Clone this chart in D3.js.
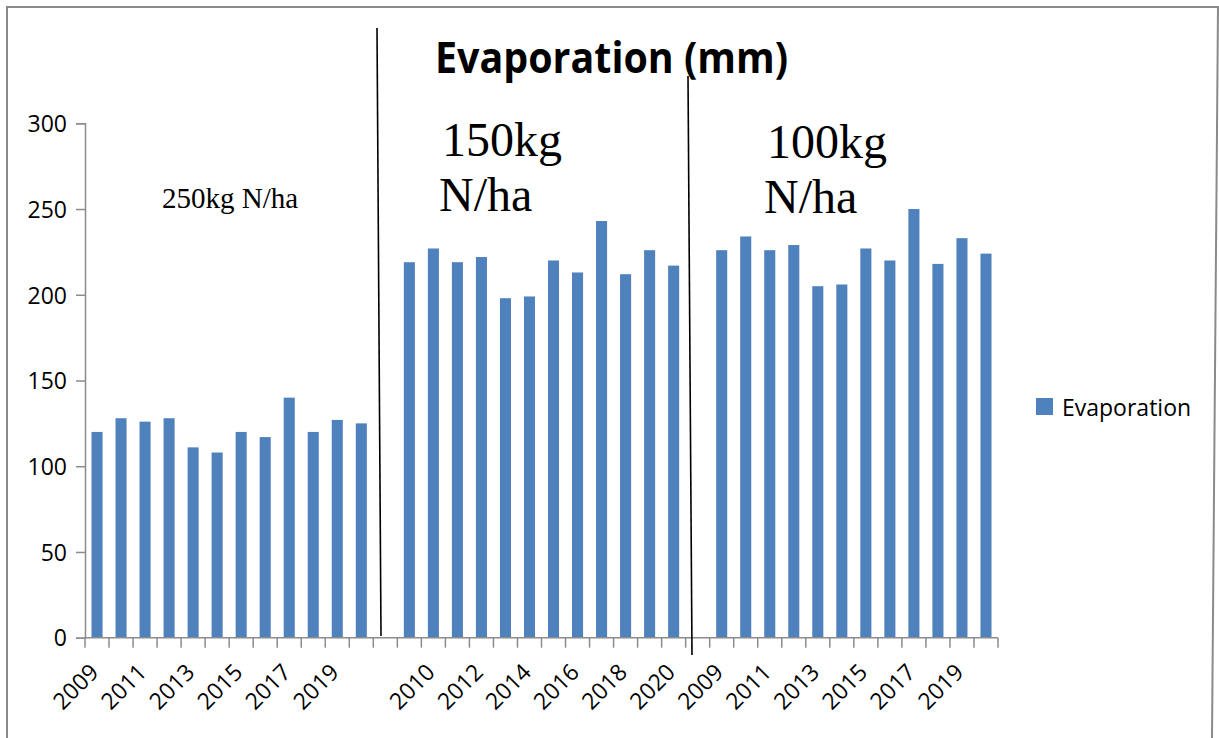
<!DOCTYPE html>
<html>
<head>
<meta charset="utf-8">
<script src="https://cdn.jsdelivr.net/npm/d3@7"></script>
<style>
  html, body { margin: 0; padding: 0; background: #fff; }
  svg { display: block; }
</style>
</head>
<body>
<svg id="chart" width="1219" height="738"></svg>
<script>
// Evaporation (mm) for three nitrogen application rates, 2009-2020
const years1 = [2009, 2010, 2011, 2012, 2013, 2014, 2015, 2016, 2017, 2018, 2019, 2020];
const years2 = [2009, 2010, 2011, 2012, 2013, 2014, 2015, 2016, 2017, 2018, 2019, 2020];
const years3 = [2009, 2010, 2011, 2012, 2013, 2014, 2015, 2016, 2017, 2018, 2019, 2020];
const evap250 = [120, 128, 126, 128, 111, 108, 120, 117, 140, 120, 127, 125];
const evap150 = [219, 227, 219, 222, 198, 199, 220, 213, 243, 212, 226, 217];
const evap100 = [226, 234, 226, 229, 205, 206, 227, 220, 250, 218, 233, 224];
const groupLabels = ["250kg N/ha", "150kg N/ha", "100kg N/ha"];
const yTicks = [0, 50, 100, 150, 200, 250, 300];
const seriesName = "Evaporation";
const chartTitle = "Evaporation (mm)";

// One flat category list, with an empty slot between rate groups
const groups = [
  { years: years1, values: evap250 },
  { years: years2, values: evap150 },
  { years: years3, values: evap100 }
];
const cats = [];
groups.forEach((g, gi) => {
  if (gi > 0) cats.push({ key: "gap" + gi, label: "", value: null });
  g.years.forEach((yr, i) => cats.push({ key: gi + "-" + yr, label: String(yr), value: g.values[i] }));
});

const svg = d3.select("#chart");
const barColor = "#4f81bd";
const axisColor = "#8c8c8c";
const sans = "'Open Sans', 'DejaVu Sans', sans-serif";
const serif = "'Liberation Serif', 'Times New Roman', serif";

const plot = { left: 85, right: 998, top: 123.3, bottom: 637.7 };

const x = d3.scaleBand()
  .domain(cats.map(d => d.key))
  .range([plot.left, plot.right])
  .padding(0);
const y = d3.scaleLinear()
  .domain([0, 300])
  .range([plot.bottom, plot.top]);

// Outer frame
svg.append("path")
  .attr("d", "M7,738 L7,7 L1218,7 L1212,738")
  .attr("fill", "none")
  .attr("stroke", "#8a8a8a")
  .attr("stroke-width", 2);

// Bars
const bw = x.step() * 0.46;
svg.append("g").selectAll("rect")
  .data(cats.filter(d => d.value !== null))
  .join("rect")
  .attr("x", d => x(d.key) + x.step() / 2 - bw / 2)
  .attr("y", d => y(d.value))
  .attr("width", bw)
  .attr("height", d => y(0) - y(d.value))
  .attr("fill", barColor);

// Y axis
const yAxis = svg.append("g")
  .attr("transform", `translate(${plot.left},0)`)
  .call(d3.axisLeft(y).tickValues(yTicks).tickSize(9).tickPadding(9));
yAxis.select(".domain").attr("stroke", axisColor).attr("stroke-width", 1.5);
yAxis.selectAll(".tick line").attr("stroke", axisColor).attr("stroke-width", 1.5);
yAxis.selectAll(".tick text")
  .attr("font-family", sans)
  .attr("font-size", 23)
  .attr("fill", "#000")
  .attr("dy", "0.36em");

// X axis: line with ticks on category boundaries
const xAxis = svg.append("g");
xAxis.append("line")
  .attr("x1", plot.left).attr("x2", plot.right)
  .attr("y1", y(0)).attr("y2", y(0))
  .attr("stroke", axisColor).attr("stroke-width", 1.5);
const bounds = cats.map(d => x(d.key)).concat([x(cats[cats.length - 1].key) + x.step()]);
xAxis.selectAll("line.tk")
  .data(bounds)
  .join("line")
  .attr("class", "tk")
  .attr("x1", d => d).attr("x2", d => d)
  .attr("y1", y(0)).attr("y2", y(0) + 10)
  .attr("stroke", axisColor).attr("stroke-width", 1.5);

// Every other category label, rotated
xAxis.selectAll("text")
  .data(cats.filter((d, i) => i % 2 === 0 && d.label !== ""))
  .join("text")
  .attr("transform", d => `translate(${x(d.key) + x.step() / 2 + 3},${y(0) + 36}) rotate(-45)`)
  .attr("text-anchor", "end")
  .attr("font-family", sans)
  .attr("font-size", 23)
  .attr("fill", "#000")
  .text(d => d.label);

// Divider lines between rate groups
svg.append("line")
  .attr("x1", 377).attr("y1", 28).attr("x2", 381).attr("y2", 636)
  .attr("stroke", "#000").attr("stroke-width", 1.6);
svg.append("line")
  .attr("x1", 688).attr("y1", 76).attr("x2", 692).attr("y2", 655)
  .attr("stroke", "#000").attr("stroke-width", 1.6);

// Title
svg.append("text")
  .attr("x", 435).attr("y", 73)
  .attr("font-family", sans)
  .attr("font-weight", "bold")
  .attr("font-size", 43)
  .attr("textLength", 353)
  .attr("lengthAdjust", "spacingAndGlyphs")
  .attr("fill", "#000")
  .text(chartTitle);

// Rate annotations
svg.append("text")
  .attr("x", 162).attr("y", 208)
  .attr("font-family", serif).attr("font-size", 29).attr("fill", "#000")
  .text(groupLabels[0]);

const rateText = [
  { label: groupLabels[1], x1: 442, y1: 156, x2: 439, y2: 211 },
  { label: groupLabels[2], x1: 767, y1: 158, x2: 764, y2: 213 }
];
rateText.forEach(r => {
  const parts = r.label.split(" ");
  svg.append("text")
    .attr("x", r.x1).attr("y", r.y1)
    .attr("font-family", serif).attr("font-size", 48).attr("fill", "#000")
    .text(parts[0]);
  svg.append("text")
    .attr("x", r.x2).attr("y", r.y2)
    .attr("font-family", serif).attr("font-size", 48).attr("fill", "#000")
    .text(parts[1]);
});

// Legend
svg.append("rect")
  .attr("x", 1036).attr("y", 398).attr("width", 17).attr("height", 17)
  .attr("fill", barColor);
svg.append("text")
  .attr("x", 1062).attr("y", 416)
  .attr("font-family", sans).attr("font-size", 23).attr("fill", "#000")
  .text(seriesName);
</script>
</body>
</html>
